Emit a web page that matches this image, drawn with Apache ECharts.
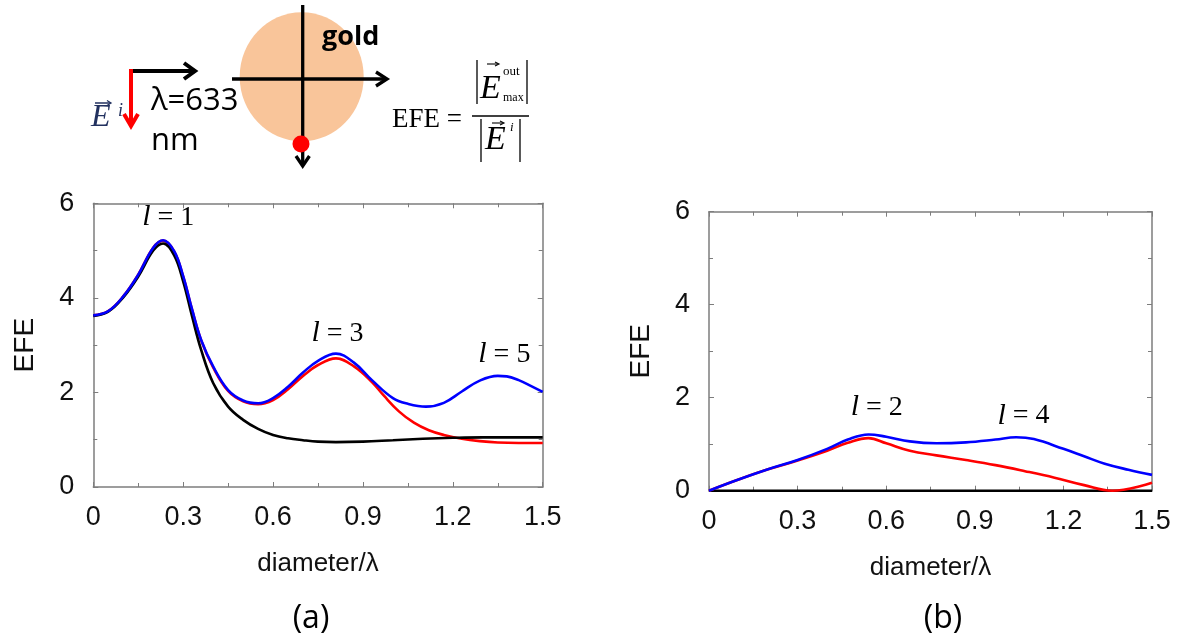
<!DOCTYPE html>
<html><head><meta charset="utf-8">
<script src="https://cdn.jsdelivr.net/npm/echarts/dist/echarts.min.js"></script>
<style>html,body{margin:0;padding:0;background:#fff}#c{width:1188px;height:643px}</style>
</head><body><div id="c"></div>
<script>
// ---------- data ----------
const xTickValues = [0, 0.3, 0.6, 0.9, 1.2, 1.5];
const yTickValues = [0, 2, 4, 6];

// panel (a)
const aBlueX  = [0,0.05,0.1,0.15,0.2,0.233,0.27,0.3,0.33,0.36,0.4,0.45,0.5,0.55,0.6,0.65,0.7,0.75,0.81,0.87,0.93,1.0,1.05,1.11,1.17,1.23,1.29,1.35,1.38,1.42,1.46,1.5];
const aBlueY  = [3.63,3.72,4.03,4.49,5.06,5.22,4.99,4.46,3.75,3.11,2.55,2.05,1.83,1.77,1.88,2.12,2.42,2.67,2.82,2.63,2.26,1.88,1.76,1.70,1.78,2.02,2.25,2.35,2.34,2.26,2.14,2.01];
const aRedX   = [0,0.05,0.1,0.15,0.2,0.233,0.27,0.3,0.33,0.36,0.4,0.45,0.5,0.55,0.6,0.65,0.7,0.75,0.81,0.87,0.93,0.97,1.02,1.07,1.12,1.17,1.23,1.29,1.35,1.42,1.5];
const aRedY   = [3.63,3.72,4.03,4.49,5.06,5.21,4.98,4.45,3.74,3.10,2.53,2.03,1.81,1.75,1.84,2.07,2.35,2.58,2.72,2.55,2.22,1.93,1.60,1.36,1.20,1.10,1.02,0.97,0.94,0.93,0.93];
const aBlackX = [0,0.05,0.1,0.15,0.2,0.233,0.27,0.3,0.33,0.36,0.4,0.45,0.5,0.55,0.6,0.65,0.7,0.75,0.81,0.9,1.0,1.1,1.2,1.3,1.4,1.5];
const aBlackY = [3.62,3.71,4.01,4.45,5.00,5.15,4.90,4.35,3.60,2.90,2.20,1.70,1.42,1.23,1.10,1.03,0.99,0.96,0.95,0.96,0.99,1.02,1.04,1.05,1.05,1.05];

// panel (b)
const bBlueX  = [0,0.1,0.2,0.3,0.4,0.47,0.54,0.6,0.68,0.77,0.87,0.97,1.04,1.1,1.2,1.27,1.34,1.42,1.5];
const bBlueY  = [0,0.24,0.46,0.66,0.90,1.10,1.21,1.16,1.06,1.02,1.04,1.10,1.15,1.11,0.90,0.74,0.58,0.45,0.34];
const bRedX   = [0,0.1,0.2,0.3,0.4,0.47,0.54,0.6,0.68,0.77,0.87,0.97,1.07,1.17,1.27,1.365,1.5];
const bRedY   = [0,0.24,0.46,0.65,0.86,1.03,1.13,1.02,0.86,0.76,0.66,0.55,0.42,0.28,0.12,0.0,0.17];
const bBlackX = [0,1.5];
const bBlackY = [0,0];

// curve labels (angular momentum orders)
const annotGrid = [0,0,0,1,1];
const annotX    = [0.25,0.815,1.372,0.568,1.065];
const annotY    = [5.7,3.25,2.8,1.79,1.61];
const annotL    = ['1','3','5','2','4'];

const panelLabels = ['(a)','(b)'];
const xName = 'diameter/λ';
const yName = 'EFE';

// ---------- chart ----------
const pair = (xs, ys) => xs.map((x, i) => [x, ys[i]]);
const GRAY = '#7d7d7d';
const SANS = 'Liberation Sans';

function axisPair(gi, isX) {
  const base = {
    gridIndex: gi, type: 'value',
    min: 0, max: isX ? 1.5 : 6, interval: isX ? 0.3 : 2,
    axisLine: {show: true, onZero: false, lineStyle: {color: GRAY, width: 1.5}},
    axisTick: {show: true, inside: true, length: 5, lineStyle: {color: GRAY, width: 1}},
    minorTick: {show: true, splitNumber: 2, length: 4, lineStyle: {color: GRAY, width: 1}},
    splitLine: {show: false}
  };
  const main = Object.assign({}, base, {
    position: isX ? 'bottom' : 'left',
    name: isX ? xName : yName,
    nameLocation: 'middle',
    nameGap: isX ? 64 : 54,
    nameRotate: isX ? 0 : 90,
    nameTextStyle: {fontFamily: SANS, fontSize: isX ? 26 : 28, color: '#111'},
    axisLabel: {fontFamily: SANS, fontSize: 27, color: '#111', margin: isX ? 17 : 19,
      formatter: v => String(+v.toFixed(1))}
  });
  const mirror = Object.assign({}, base, {
    position: isX ? 'top' : 'right',
    axisLabel: {show: false}
  });
  return [main, mirror];
}

const chart = echarts.init(document.getElementById('c'), null, {renderer: 'canvas'});

const lineS = (xi, yi, xs, ys, color, z) => ({
  type: 'line', xAxisIndex: xi, yAxisIndex: yi, data: pair(xs, ys),
  showSymbol: false, smooth: 0.4, clip: false, z: z,
  lineStyle: {color: color, width: 2.6}, itemStyle: {color: color}, animation: false
});

// schematic at top (illustration, not data)
const K = '#000';
function chevron(pts, color, w) {
  return {type: 'polyline', shape: {points: pts}, style: {stroke: color, lineWidth: w, fill: null, lineJoin: 'miter'}, z: 20};
}
function seg(x1, y1, x2, y2, color, w) {
  return {type: 'line', shape: {x1, y1, x2, y2}, style: {stroke: color, lineWidth: w}, z: 20};
}
function txt(x, y, text, font, opts) {
  return Object.assign({type: 'text', x: x, y: y, z: 21,
    style: Object.assign({text: text, font: font, fill: '#000', align: 'left', verticalAlign: 'middle'}, opts || {})});
}
const ECOL = '#22315f';
const diagram = [
  {type: 'ellipse', shape: {cx: 301.7, cy: 76.7, rx: 62, ry: 64.5}, style: {fill: '#F9C59A'}, z: 10},
  seg(302.7, 5, 302.7, 165, K, 3.3),
  chevron([[296,156],[302.7,166],[309.4,156]], K, 3.3),
  seg(232, 79, 386, 79, K, 3.3),
  chevron([[376,72],[387,79],[376,86]], K, 3.3),
  {type: 'circle', shape: {cx: 301, cy: 144, r: 8.5}, style: {fill: '#ff0000'}, z: 22},
  txt(322, 37, 'gold', 'bold 27px "Open Sans"'),
  // incident wave arrows
  seg(129, 71, 195, 71, K, 4),
  chevron([[184,63],[195,71],[184,79]], K, 4),
  seg(131, 69, 131, 125, '#ff0000', 4),
  chevron([[124,114],[131,126],[138,114]], '#ff0000', 4),
  txt(151, 101, 'λ=633', '31px "Open Sans"'),
  txt(151, 141, 'nm', '31px "Open Sans"'),
  txt(91, 118, 'E', 'italic 32px "Liberation Serif"', {fill: ECOL}),
  seg(95, 103, 110, 103, ECOL, 1.5),
  chevron([[107,100.5],[111,103],[107,105.5]], ECOL, 1.3),
  txt(118, 111, 'i', 'italic 18px "Liberation Serif"', {fill: ECOL}),
  // EFE formula
  txt(392, 120, 'EFE =', '27px "Liberation Serif"'),
  seg(477, 60, 477, 104, K, 1.3),
  seg(527, 60, 527, 104, K, 1.3),
  txt(480, 89, 'E', 'italic 34px "Liberation Serif"'),
  seg(487, 64, 498, 64, K, 1.1),
  chevron([[495,62],[499,64],[495,66]], K, 1.1),
  txt(503, 72, 'out', '13px "Liberation Serif"'),
  txt(503, 98, 'max', '12px "Liberation Serif"'),
  seg(472, 116, 529, 116, K, 1.3),
  seg(481, 119, 481, 162, K, 1.3),
  seg(520, 119, 520, 162, K, 1.3),
  txt(485, 140, 'E', 'italic 34px "Liberation Serif"'),
  seg(492, 123, 503, 123, K, 1.1),
  chevron([[500,121],[504,123],[500,125]], K, 1.1),
  txt(510, 128, 'i', 'italic 13px "Liberation Serif"'),
  // panel labels
  txt(311, 619, panelLabels[0], '32px "Open Sans"', {align: 'center'}),
  txt(943, 619, panelLabels[1], '32px "Open Sans"', {align: 'center'})
];

const [ax0, ax0t] = axisPair(0, true), [ay0, ay0r] = axisPair(0, false);
const [ax1, ax1t] = axisPair(1, true), [ay1, ay1r] = axisPair(1, false);

chart.setOption({
  animation: false,
  backgroundColor: '#fff',
  grid: [
    {left: 93.3, top: 203.3, width: 449.4, height: 283.7},
    {left: 709, top: 211.7, width: 443, height: 279}
  ],
  xAxis: [ax0, ax0t, ax1, ax1t],
  yAxis: [ay0, ay0r, ay1, ay1r],
  series: [
    lineS(0, 0, aRedX, aRedY, '#ff0000', 3),
    lineS(0, 0, aBlackX, aBlackY, '#000000', 4),
    lineS(0, 0, aBlueX, aBlueY, '#0000ff', 5),
    lineS(2, 2, bBlackX, bBlackY, '#000000', 3),
    lineS(2, 2, bRedX, bRedY, '#ff0000', 4),
    lineS(2, 2, bBlueX, bBlueY, '#0000ff', 5)
  ],
  graphic: diagram
});

// curve-order labels placed through the axes' scales
const labels = annotX.map((x, i) => {
  const g = annotGrid[i];
  const p = chart.convertToPixel({xAxisIndex: g * 2, yAxisIndex: g * 2}, [x, annotY[i]]);
  return {
    type: 'text', x: p[0], y: p[1], z: 30,
    style: {
      text: '{l|l}{t| = ' + annotL[i] + '}',
      align: 'center', verticalAlign: 'middle',
      rich: {
        l: {font: 'italic 30px "Liberation Serif"', fill: '#000'},
        t: {font: '28px "Liberation Serif"', fill: '#000'}
      }
    }
  };
});
chart.setOption({graphic: diagram.concat(labels)});
</script>
</body></html>
